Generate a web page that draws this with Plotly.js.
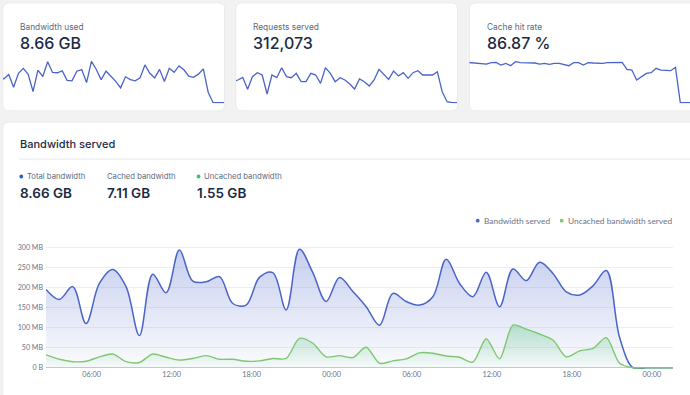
<!DOCTYPE html>
<html><head><meta charset="utf-8">
<script src="https://cdn.plot.ly/plotly-3.0.1.min.js"></script>
<style>html,body{margin:0;padding:0;background:#f2f2f3;} #chart{width:690px;height:395px;}</style>
</head><body><div id="chart"></div>
<script>
const times = [
 '2024-05-01 02:35','2024-05-01 03:35','2024-05-01 04:35','2024-05-01 05:35','2024-05-01 06:35','2024-05-01 07:35',
 '2024-05-01 08:35','2024-05-01 09:35','2024-05-01 10:35','2024-05-01 11:35','2024-05-01 12:35','2024-05-01 13:35',
 '2024-05-01 14:35','2024-05-01 15:35','2024-05-01 16:35','2024-05-01 17:35','2024-05-01 18:35','2024-05-01 19:35',
 '2024-05-01 20:35','2024-05-01 21:35','2024-05-01 22:35','2024-05-01 23:35','2024-05-02 00:35','2024-05-02 01:35',
 '2024-05-02 02:35','2024-05-02 03:35','2024-05-02 04:35','2024-05-02 05:35','2024-05-02 06:35','2024-05-02 07:35',
 '2024-05-02 08:35','2024-05-02 09:35','2024-05-02 10:35','2024-05-02 11:35','2024-05-02 12:35','2024-05-02 13:35',
 '2024-05-02 14:35','2024-05-02 15:35','2024-05-02 16:35','2024-05-02 17:35','2024-05-02 18:35','2024-05-02 19:35',
 '2024-05-02 20:35','2024-05-02 21:35','2024-05-02 22:35','2024-05-02 23:35','2024-05-03 00:35','2024-05-03 01:35'];
const totalMB = [195,170,202,110,210,245,202,80,233,187,293,216,214,227,160,156,225,237,144,295,237,165,225,190,
 152,106,185,165,156,177,270,210,177,238,152,246,217,263,235,189,181,204,242,75,0,0,0,0];
const uncachedMB = [32,21,15,16,27,34,15,13,34,26,19,23,30,21,21,16,17,23,23,73,61,27,30,25,
 51,11,17,22,37,36,29,26,14,72,22,106,96,84,69,27,42,48,75,11,0,0,0,0];
const requests = [5650,6100,6820,3590,7000,8070,7450,2330,7450,6730,9420,7000,6730,7890,5650,5650,7890,7450,5200,9420,
 7890,5650,6730,6100,5020,3680,6370,5650,4490,6100,8970,7710,6280,8520,7180,8070,6550,8070,8610,7450,7450,7450,8340,2960,270,0,0,0];
const hitRate = [95.5,94.7,93.1,92.3,91.5,94.7,95.5,89.2,93.1,87.6,97.0,94.7,94.7,94.7,93.9,91.5,93.1,90.7,93.1,93.1,
 90.7,87.6,94.7,94.7,89.2,94.7,93.9,93.1,93.1,94.7,94.7,95.5,95.5,78.9,77.3,53.6,61.5,69.4,71.0,81.3,77.3,75.7,75.7,83.6,0,0,0,0];
const yTickVals = [0,50,100,150,200,250,300];
const yTickText = ['0 B','50 MB','100 MB','150 MB','200 MB','250 MB','300 MB'];
const cardTitles = ['Bandwidth used','Requests served','Cache hit rate'];
const cardValues = ['8.66 GB','312,073','86.87 %'];
const summaryLabels = ['Total bandwidth','Cached bandwidth','Uncached bandwidth'];
const summaryValues = ['8.66 GB','7.11 GB','1.55 GB'];
const legendNames = ['Bandwidth served','Uncached bandwidth served'];

const W = 690, H = 395;
const px = x => x / W, py = y => 1 - y / H;
const xd = (a, b) => [a / W, b / W];
const yd = (top, bottom) => [1 - bottom / H, 1 - top / H];
const idx = times.map((t, i) => i);

const BLUE = '#4a64c9', GREEN = '#7dc86c';
const LABEL = '#5b6a7e', DARK = '#1b2a44', TICK = '#6b7385';

function rr(x0, y0, x1, y1, r) {
  const P = (x, y) => px(x) + ',' + py(y);
  return 'M' + P(x0 + r, y0) + ' L' + P(x1 - r, y0) + ' Q' + P(x1, y0) + ' ' + P(x1, y0 + r) +
    ' L' + P(x1, y1 - r) + ' Q' + P(x1, y1) + ' ' + P(x1 - r, y1) +
    ' L' + P(x0 + r, y1) + ' Q' + P(x0, y1) + ' ' + P(x0, y1 - r) +
    ' L' + P(x0, y0 + r) + ' Q' + P(x0, y0) + ' ' + P(x0 + r, y0) + ' Z';
}
function card(x0, y0, x1, y1) {
  return {type: 'path', xref: 'paper', yref: 'paper', layer: 'below', path: rr(x0, y0, x1, y1, 6),
    fillcolor: '#ffffff', line: {color: 'rgba(0,0,0,0.05)', width: 1}};
}
function dot(cx, cy, r, color) {
  return {type: 'circle', xref: 'paper', yref: 'paper', x0: px(cx - r), x1: px(cx + r), y0: py(cy + r), y1: py(cy - r),
    fillcolor: color, line: {width: 0}};
}
function ann(text, x, y, size, color, family, weight) {
  return {text: text, x: px(x), y: py(y), xref: 'paper', yref: 'paper', xanchor: 'left', yanchor: 'middle',
    showarrow: false, borderpad: 0, font: {size: size, color: color, family: family, weight: weight || 400}};
}

const traces = [
  {x: times, y: totalMB, type: 'scatter', mode: 'lines', name: legendNames[0],
   line: {color: BLUE, width: 1.5, shape: 'spline', smoothing: 1},
   fill: 'tozeroy', fillgradient: {type: 'vertical', start: 0, stop: 300,
     colorscale: [[0, 'rgba(74,100,201,0.02)'], [1, 'rgba(74,100,201,0.32)']]},
   xaxis: 'x', yaxis: 'y', hoverinfo: 'skip'},
  {x: times, y: uncachedMB, type: 'scatter', mode: 'lines', name: legendNames[1],
   line: {color: GREEN, width: 1.4, shape: 'spline', smoothing: 0.8},
   fill: 'tozeroy', fillgradient: {type: 'vertical', start: 0, stop: 110,
     colorscale: [[0, 'rgba(90,200,130,0.03)'], [1, 'rgba(90,200,130,0.38)']]},
   xaxis: 'x', yaxis: 'y', hoverinfo: 'skip'},
  {x: idx, y: totalMB, type: 'scatter', mode: 'lines', line: {color: BLUE, width: 1.3}, xaxis: 'x2', yaxis: 'y2', hoverinfo: 'skip'},
  {x: idx, y: requests, type: 'scatter', mode: 'lines', line: {color: BLUE, width: 1.3}, xaxis: 'x3', yaxis: 'y3', hoverinfo: 'skip'},
  {x: idx, y: hitRate, type: 'scatter', mode: 'lines', line: {color: BLUE, width: 1.3}, xaxis: 'x4', yaxis: 'y4', hoverinfo: 'skip'}
];

const sparkY = yd(60.7, 103.4);
const hidden = {visible: false, fixedrange: true};

const shapes = [
  card(3, 3, 224.5, 110.7),
  card(236, 3, 457.5, 110.7),
  card(469.5, 3, 700, 110.7),
  card(3, 122.3, 700, 410),
  {type: 'line', xref: 'paper', yref: 'paper', x0: px(19), x1: px(700), y0: py(159), y1: py(159), line: {color: '#e6e8ec', width: 1}},
  dot(21.3, 176.5, 1.9, '#1f5fd1'),
  dot(198.5, 176.5, 1.9, '#34c47c'),
  dot(477.7, 220.7, 1.9, BLUE),
  dot(561.7, 220.7, 1.9, GREEN)
];

const annotations = [
  ann(cardTitles[0], 18.5, 26.5, 8.35, LABEL, 'Inter'),
  ann(cardTitles[1], 252, 26.5, 8.35, LABEL, 'Inter'),
  ann(cardTitles[2], 485.5, 26.5, 8.35, LABEL, 'Inter'),
  ann(cardValues[0], 18.5, 42.5, 16, DARK, 'Inter', 500),
  ann(cardValues[1], 252, 42.5, 16, DARK, 'Inter', 500),
  ann(cardValues[2], 485.5, 42.5, 16, DARK, 'Inter', 500),
  ann('Bandwidth served', 18.5, 144.5, 11, DARK, 'Inter', 500),
  ann(summaryLabels[0], 26, 177, 7.7, LABEL, 'Inter'),
  ann(summaryLabels[1], 106, 177, 7.7, LABEL, 'Inter'),
  ann(summaryLabels[2], 203, 177, 7.7, LABEL, 'Inter'),
  ann(summaryValues[0], 18.5, 193, 13.5, DARK, 'Inter', 600),
  ann(summaryValues[1], 106, 193, 13.5, DARK, 'Inter', 600),
  ann(summaryValues[2], 196, 193, 13.5, DARK, 'Inter', 600),
  ann(legendNames[0], 482.5, 221, 8.35, TICK, 'Lato'),
  ann(legendNames[1], 566.5, 221, 8.35, TICK, 'Lato')
];

const layout = {
  width: W, height: H, margin: {l: 0, r: 0, t: 0, b: 0},
  paper_bgcolor: '#f2f2f3', plot_bgcolor: 'rgba(0,0,0,0)', showlegend: false,
  font: {family: 'Lato', color: TICK},
  xaxis: {domain: xd(46, 673), type: 'date', range: [times[0], times[times.length - 1]],
    tickformat: '%H:%M', dtick: 21600000, tick0: '2024-05-01 00:00', showgrid: false, zeroline: false,
    showline: false, ticks: '', tickfont: {size: 7.3, color: TICK, family: 'Lato'}, fixedrange: true},
  yaxis: {domain: yd(243.3, 368.9), range: [-3, 310], tickvals: yTickVals, ticktext: yTickText,
    showgrid: true, gridcolor: '#eceef3', gridwidth: 1, zeroline: true, zerolinecolor: '#c5cad6', zerolinewidth: 1,
    showline: false, ticks: '', ticklabelstandoff: 2, tickfont: {size: 7.1, color: TICK, family: 'Lato'}, fixedrange: true},
  xaxis2: Object.assign({domain: xd(3, 224), range: [0.822, 46.25], anchor: 'y2'}, hidden),
  yaxis2: Object.assign({domain: sparkY, range: [-5, 300], anchor: 'x2'}, hidden),
  xaxis3: Object.assign({domain: xd(236, 457), range: [0.617, 46.04], anchor: 'y3'}, hidden),
  yaxis3: Object.assign({domain: sparkY, range: [-190, 11300], anchor: 'x3'}, hidden),
  xaxis4: Object.assign({domain: xd(469.5, 690), range: [0.515, 46.0], anchor: 'y4'}, hidden),
  yaxis4: Object.assign({domain: sparkY, range: [-1.66, 99.4], anchor: 'x4'}, hidden),
  shapes: shapes, annotations: annotations
};

Plotly.newPlot('chart', traces, layout, {staticPlot: true, displayModeBar: false});
</script>
</body></html>
